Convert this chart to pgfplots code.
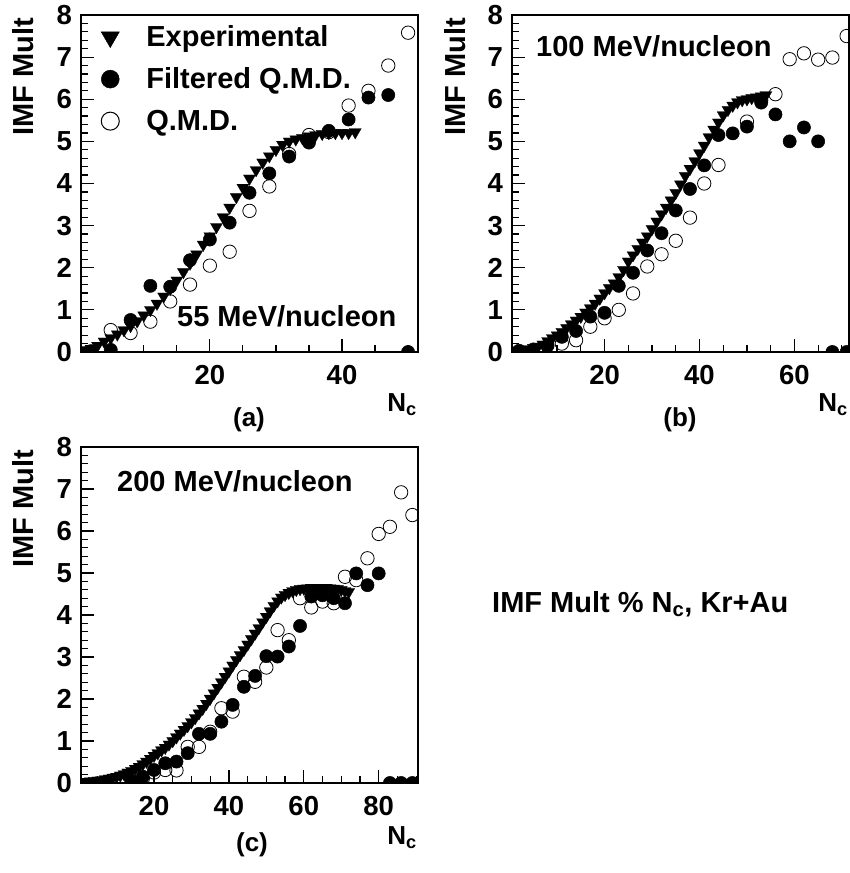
\documentclass[border=0pt]{standalone}
\usepackage{fontspec}
\setmainfont{Liberation Sans}
\usepackage{pgfplots}
\pgfplotsset{compat=1.18}
\newcommand\txt{\fontsize{29}{34}\selectfont\bfseries}
\newcommand\tck{\fontsize{27.5}{32}\selectfont\bfseries}
\newcommand\lab{\fontsize{26}{30}\selectfont\bfseries}
\pgfplotsset{
 panel/.style={
  scale only axis, width=337pt, height=337pt,
  anchor=south west,
  ymin=0, ymax=8, ytick={0,1,...,8}, minor y tick num=4,
  xmin=0.5,
  tick align=inside, tick pos=left,
  major tick length=13pt, minor tick length=6.5pt,
  axis line style={line width=1.5pt},
  every tick/.style={line width=1.2pt, black},
  every minor tick/.style={line width=1.2pt, black},
  tick label style={font=\tck},
  /pgf/number format/assume math mode=true,
  yticklabel style={anchor=east, inner sep=0pt, xshift=-9pt},
  xticklabel style={anchor=north, inner sep=0pt, yshift=-13pt},
  clip marker paths=true,
 },
 expt/.style={only marks, black, mark=triangle*, mark size=7pt, mark options={rotate=180, fill=black, line width=0.2pt}},
 filt/.style={only marks, black, mark=*, mark size=6.6pt, mark options={fill=black, line width=0.5pt}},
 qmd/.style={only marks, black, mark=o, mark size=6.7pt, mark options={line width=0.8pt}},
}
\begin{document}
\begin{tikzpicture}
\path[use as bounding box] (0,0) rectangle (849pt,873pt);
% ---------------- panel (a)
\begin{axis}[panel, at={(81pt,521pt)}, xmax=51.5, xtick={20,40}, minor xtick={5,10,...,50},
  legend image code/.code={\draw[mark repeat=2,mark phase=2,#1] plot coordinates {(0pt,0pt)(11pt,0pt)(22pt,0pt)};},
  legend style={at={(0.0593,0.969)}, anchor=north west, draw=none, fill=none,
    inner xsep=0pt, inner ysep=0pt, row sep=19pt, column sep=27pt,
    cells={anchor=west}, nodes={inner sep=0pt, text height=21pt, text depth=2pt}, font=\txt}]
\addlegendimage{only marks, black, mark=triangle*, mark size=10.5pt, mark options={rotate=180, fill=black}}
\addlegendentry{Experimental}
\addlegendimage{only marks, black, mark=*, mark size=9pt, mark options={fill=black}}
\addlegendentry{Filtered Q.M.D.}
\addlegendimage{only marks, black, mark=o, mark size=9pt, mark options={line width=1pt}}
\addlegendentry{Q.M.D.}
\addplot[expt, forget plot] coordinates {
(1,0.05)(2,0.08)(3,0.15)(4,0.25)(5,0.33)(6,0.42)(7,0.52)(8,0.62)(9,0.73)(10,0.87)
(11,1.0)(12,1.15)(13,1.32)(14,1.5)(15,1.7)(16,1.9)(17,2.1)(18,2.32)(19,2.55)(20,2.75)
(21,2.97)(22,3.2)(23,3.43)(24,3.68)(25,3.9)(26,4.12)(27,4.32)(28,4.5)(29,4.65)(30,4.8)
(31,4.92)(32,5.0)(33,5.05)(34,5.08)(35,5.12)(36,5.15)(37,5.18)(38,5.2)(39,5.2)(40,5.2)
(41,5.2)(42,5.22)};
\addplot[filt, forget plot] coordinates {
(2,0.02)(5,0.05)(8,0.76)(11,1.57)(14,1.55)(17,2.18)(20,2.67)(23,3.07)(26,3.78)(29,4.24)
(32,4.64)(35,4.97)(38,5.25)(41,5.52)(44,6.04)(47,6.1)(50,0.0)};
\addplot[qmd, forget plot] coordinates {
(5,0.52)(8,0.45)(11,0.72)(14,1.2)(17,1.6)(20,2.05)(23,2.38)(26,3.35)(29,3.93)(32,4.7)
(35,5.15)(38,5.22)(41,5.85)(44,6.2)(47,6.8)(50,7.58)};
\end{axis}
% ---------------- panel (b)
\begin{axis}[panel, at={(512pt,521pt)}, xmax=71.5, xtick={20,40,60}, minor xtick={5,10,...,70}]
\addplot[expt] coordinates {
(1,0.03)(2,0.04)(3,0.05)(4,0.07)(5,0.1)(6,0.13)(7,0.18)(8,0.26)(9,0.33)(10,0.4)
(11,0.48)(12,0.57)(13,0.66)(14,0.75)(15,0.84)(16,0.94)(17,1.04)(18,1.15)(19,1.27)(20,1.4)
(21,1.52)(22,1.63)(23,1.78)(24,1.95)(25,2.15)(26,2.3)(27,2.45)(28,2.6)(29,2.75)(30,2.92)
(31,3.1)(32,3.27)(33,3.43)(34,3.6)(35,3.78)(36,3.98)(37,4.18)(38,4.35)(39,4.53)(40,4.72)
(41,4.9)(42,5.1)(43,5.28)(44,5.45)(45,5.62)(46,5.75)(47,5.85)(48,5.93)(49,5.98)(50,6.0)
(51,6.03)(52,6.05)(53,6.07)(54,6.1)};
\addplot[filt] coordinates {
(2,0.03)(5,0.06)(8,0.15)(11,0.36)(14,0.5)(17,0.84)(20,0.93)(23,1.57)(26,1.88)(29,2.41)
(32,2.82)(35,3.36)(38,3.87)(41,4.43)(44,5.15)(47,5.19)(50,5.35)(53,5.92)(56,5.64)(59,5.0)
(62,5.33)(65,5.0)(68,0)(71,0)};
\addplot[qmd] coordinates {
(11,0.2)(14,0.28)(17,0.6)(20,0.8)(23,1.0)(26,1.39)(29,2.03)(32,2.32)(35,2.64)(38,3.19)
(41,4.0)(44,4.44)(50,5.47)(53,5.98)(56,6.12)(59,6.95)(62,7.09)(65,6.94)(68,6.99)(71,7.5)};
\end{axis}
% ---------------- panel (c)
\begin{axis}[panel, at={(81pt,90pt)}, height=336pt, xmax=90.5, xtick={20,40,60,80}, minor xtick={5,10,...,90}]
\addplot[expt] coordinates {
(1,0.02)(2,0.03)(3,0.04)(4,0.05)(5,0.06)(6,0.07)(7,0.09)(8,0.11)(9,0.13)(10,0.15)
(11,0.18)(12,0.21)(13,0.25)(14,0.29)(15,0.34)(16,0.39)(17,0.45)(18,0.51)(19,0.58)(20,0.65)
(21,0.71)(22,0.78)(23,0.84)(24,0.92)(25,1.0)(26,1.09)(27,1.18)(28,1.27)(29,1.36)(30,1.45)
(31,1.55)(32,1.66)(33,1.77)(34,1.89)(35,2.01)(36,2.14)(37,2.27)(38,2.4)(39,2.53)(40,2.66)
(41,2.8)(42,2.93)(43,3.05)(44,3.17)(45,3.3)(46,3.43)(47,3.56)(48,3.69)(49,3.83)(50,3.96)
(51,4.09)(52,4.22)(53,4.33)(54,4.42)(55,4.48)(56,4.53)(57,4.57)(58,4.6)(59,4.62)(60,4.63)
(61,4.64)(62,4.65)(63,4.65)(64,4.65)(65,4.65)(66,4.65)(67,4.64)(68,4.63)(69,4.62)(70,4.6)
(71,4.57)(72,4.55)};
\addplot[filt] coordinates {
(14,0.05)(17,0.15)(20,0.31)(23,0.47)(26,0.51)(29,0.71)(32,1.17)(35,1.17)(38,1.46)(41,1.86)
(44,2.29)(47,2.55)(50,3.02)(53,3.01)(56,3.25)(59,3.74)(62,4.44)(65,4.47)(68,4.4)(71,4.28)
(74,4.99)(77,4.71)(80,4.99)(83,0)(86,0)(89,0)};
\addplot[qmd] coordinates {
(14,0.03)(17,0.1)(20,0.25)(23,0.31)(26,0.3)(29,0.86)(32,0.86)(35,1.22)(38,1.78)(41,1.7)
(44,2.53)(47,2.41)(50,2.75)(53,3.64)(56,3.4)(59,4.4)(62,4.18)(65,4.32)(68,4.28)(71,4.91)
(74,4.83)(77,5.35)(80,5.93)(83,6.1)(86,6.92)(89,6.38)};
\end{axis}
% ---------------- texts
\node[anchor=base west, inner sep=0pt, font=\txt] at (177pt,546pt) {55 MeV/nucleon};
\node[anchor=base west, inner sep=0pt, font=\txt] at (536pt,816pt) {100 MeV/nucleon};
\node[anchor=base west, inner sep=0pt, font=\txt] at (117pt,381pt) {200 MeV/nucleon};
\node[rotate=90, anchor=base east, inner sep=0pt, font=\txt] at (33pt,855pt) {IMF Mult};
\node[rotate=90, anchor=base east, inner sep=0pt, font=\txt] at (465pt,855pt) {IMF Mult};
\node[rotate=90, anchor=base east, inner sep=0pt, font=\txt] at (33pt,423pt) {IMF Mult};
\node[anchor=base, inner sep=0pt, font=\lab] at (249pt,446pt) {(a)};
\node[anchor=base, inner sep=0pt, font=\lab] at (680pt,446pt) {(b)};
\node[anchor=base, inner sep=0pt, font=\lab] at (252pt,21pt) {(c)};
\node[anchor=base east, inner sep=0pt, font=\lab] at (417pt,461pt) {N\textsubscript{c}};
\node[anchor=base east, inner sep=0pt, font=\lab] at (848pt,461pt) {N\textsubscript{c}};
\node[anchor=base east, inner sep=0pt, font=\lab] at (417pt,28pt) {N\textsubscript{c}};
\node[anchor=base west, inner sep=0pt, font=\txt] at (492pt,260pt) {IMF Mult \% N\textsubscript{c}, Kr+Au};
\end{tikzpicture}
\end{document}
